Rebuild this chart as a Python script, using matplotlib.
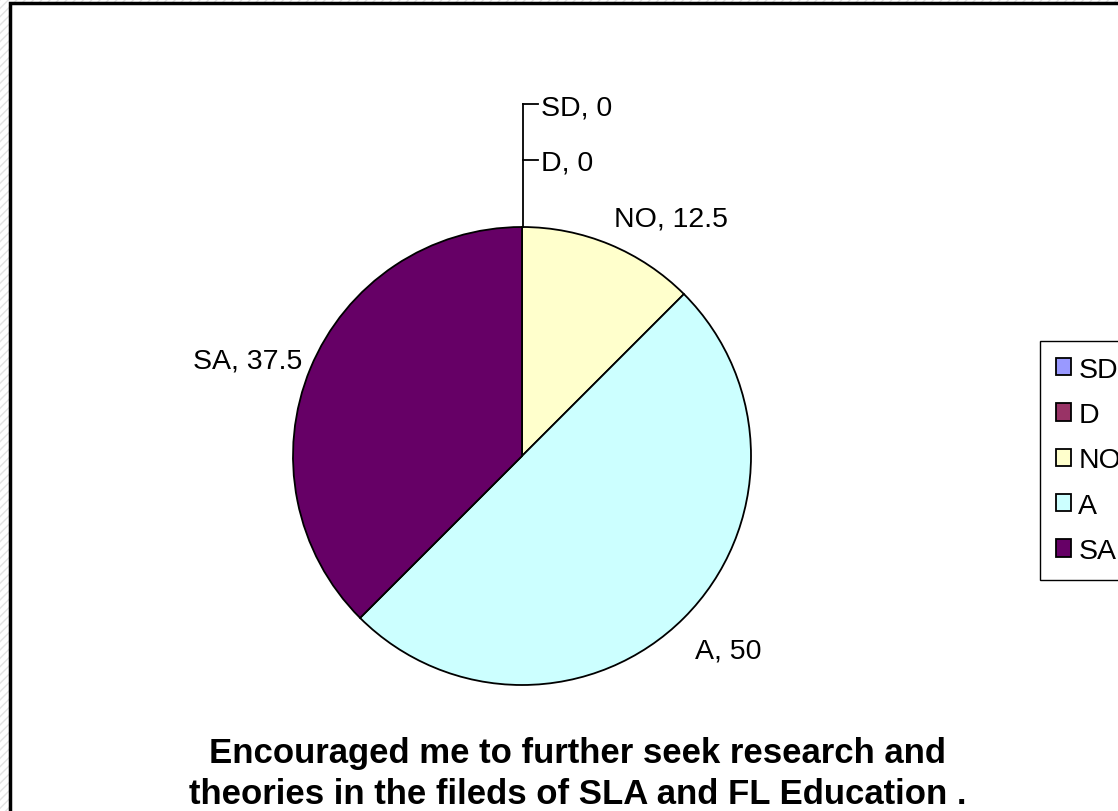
import matplotlib
matplotlib.use('Agg')
from matplotlib import pyplot as plt
from matplotlib.patches import Rectangle

labels = ['SD', 'D', 'NO', 'A', 'SA']
values = [0, 0, 12.5, 50, 37.5]
colors = ['#9999FF', '#993366', '#FFFFCC', '#CCFFFF', '#660066']
title = 'Encouraged me to further seek research and\ntheories in the fileds of SLA and FL Education .'

plt.rcParams['font.family'] = ['Liberation Sans', 'DejaVu Sans']

W, H = 1118, 812
fig = plt.figure(figsize=(W / 100, H / 100), dpi=100)

# hatched background outside the chart area
fig.patches.append(Rectangle((0, 0), 1, 1, transform=fig.transFigure,
                             facecolor='white', edgecolor='#e2e2e2',
                             hatch='////', linewidth=0, zorder=-3))
fig.patches.append(Rectangle((10 / W, -0.05), 1.1, (H - 4) / H + 0.05,
                             transform=fig.transFigure, facecolor='white',
                             edgecolor='black', linewidth=2.5, zorder=-2))

cx, cy, r = 522, 457, 229
ax = fig.add_axes([(cx - r) / W, (H - cy - r) / H, 2 * r / W, 2 * r / H])

wedges, _ = ax.pie(values, colors=colors, startangle=90, counterclock=False,
                   radius=1, wedgeprops=dict(edgecolor='black', linewidth=1.3))
ax.set_xlim(-1, 1)
ax.set_ylim(-1, 1)
ax.axis('off')


def px(x, y):
    return (x - cx) / r, (cy - y) / r


# leader line for the zero slices
lx = 523
ax.plot(*zip(px(lx, 228), px(lx, 105)), color='black', lw=1.3, clip_on=False)
for ty in (105, 161):
    ax.plot(*zip(px(lx, ty), px(538, ty)), color='black', lw=1.3, clip_on=False)

label_pos = {'SD': (541, 108, 'left'), 'D': (541, 164, 'left'),
             'NO': (671, 220, 'center'), 'A': (728, 652, 'center'),
             'SA': (248, 362, 'center')}
for lab, val in zip(labels, values):
    x, y, ha = label_pos[lab]
    ax.text(*px(x, y), f'{lab}, {val:g}', ha=ha, va='center', fontsize=20.5,
            clip_on=False)

fig.text(578 / W, 1 - 774 / H, title, ha='center', va='center',
         fontsize=25, fontweight='bold', linespacing=1.3)

fig.legend(wedges, labels, loc='upper left',
           bbox_to_anchor=(1040 / W, 1 - 342 / H), fontsize=20.5,
           frameon=True, fancybox=False, edgecolor='black', framealpha=1,
           handlelength=0.55, handleheight=0.55, handletextpad=0.25,
           labelspacing=0.68, borderpad=0.55, borderaxespad=0)

fig.savefig('out.png', dpi=100)
